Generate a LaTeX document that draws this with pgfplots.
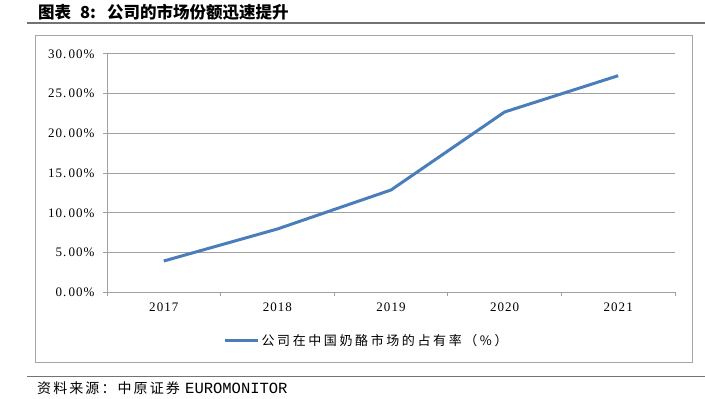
\documentclass[border=0pt]{standalone}
\usepackage{pgfplots}
\pgfplotsset{compat=1.18}
\usepackage{fontspec}
\setmainfont{Liberation Serif}
\newfontfamily\cjk{Noto Sans CJK SC}
\newfontfamily\cjksrc[LetterSpace=15]{Noto Sans CJK SC}
\newfontfamily\cjkleg[LetterSpace=20]{Noto Sans CJK SC}
\newfontfamily\numfont[LetterSpace=8]{Liberation Serif}
\newfontfamily\monofont{Liberation Mono}
\definecolor{lineblue}{HTML}{4A7EBB}
\definecolor{gridgray}{HTML}{A0A0A0}
\begin{document}
\begin{tikzpicture}
\path[use as bounding box] (0,0) rectangle (705bp,399bp);
\draw[line width=1.5bp, color=black!55] (27bp,376bp) -- (705bp,376bp);
\node[anchor=west, inner sep=0] at (38bp,387bp) {\fontsize{16.5bp}{18bp}\cjk\bfseries 图表\hspace{9bp}8:};
\node[anchor=west, inner sep=0] at (107bp,387bp) {\fontsize{16.5bp}{18bp}\cjk\bfseries 公司的市场份额迅速提升};
\draw[line width=1bp, color=black!35] (35bp,36.5bp) rectangle (692.5bp,363.3bp);
\draw[line width=1.2bp, color=black!55] (27bp,22.3bp) -- (705bp,22.3bp);
\node[anchor=west, inner sep=0] at (37bp,11bp) {\fontsize{14bp}{16bp}\cjksrc 资料来源：\hspace{2bp}中原证券};
\node[anchor=west, inner sep=0] at (185bp,11bp) {\fontsize{15.5bp}{16bp}\monofont EUROMONITOR};
\begin{axis}[
  at={(107bp,106.7bp)}, anchor=south west,
  scale only axis, width=568bp, height=238.3bp,
  xmin=-0.5, xmax=4.5, ymin=0, ymax=30,
  axis x line*=bottom, axis y line*=left,
  axis line style={color=gridgray, line width=1bp, -},
  tick align=outside, major tick length=4bp,
  tick style={color=gridgray, line width=1bp},
  xtick={-0.5,0.5,1.5,2.5,3.5,4.5},
  xticklabels={,,,,,},
  extra x ticks={0,1,2,3,4},
  extra x tick labels={2017,2018,2019,2020,2021},
  extra x tick style={tick style={draw=none}, grid=none},
  xticklabel style={font=\fontsize{13bp}{15bp}\numfont, yshift=-3bp},
  ytick={0,5,10,15,20,25,30},
  yticklabels={0.\,00\%,5.\,00\%,10.\,00\%,15.\,00\%,20.\,00\%,25.\,00\%,30.\,00\%},
  yticklabel style={font=\fontsize{13bp}{15bp}\numfont, xshift=-5bp},
  ymajorgrids, grid style={color=gridgray, line width=1bp},
  legend style={at={(axis description cs:0.457,-0.203)}, anchor=center, draw=none, fill=none,
    font=\fontsize{13bp}{15bp}\cjkleg, inner sep=0pt},
  legend image code/.code={\draw[#1] (0bp,0bp) -- (33bp,0bp);},
]
\addplot[color=lineblue, line width=3bp] coordinates {(0,3.94) (1,7.97) (2,12.88) (3,22.70) (4,27.27)};
\addlegendentry{公司在中国奶酪市场的占有率（\%）}
\end{axis}
\end{tikzpicture}
\end{document}
